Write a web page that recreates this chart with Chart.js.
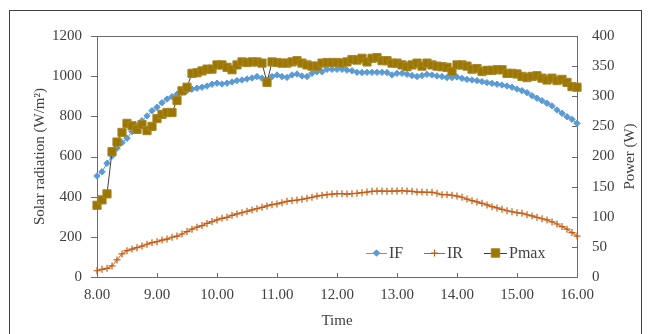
<!DOCTYPE html>
<html>
<head>
<meta charset="utf-8">
<script src="https://cdn.jsdelivr.net/npm/chart.js@4.4.1/dist/chart.umd.min.js"></script>
<style>
  body { margin: 0; background: #fff; }
  #wrap { position: relative; width: 649px; height: 334px; overflow: hidden; }
  #frame { position: absolute; left: 9px; top: 10px; width: 633px; height: 340px; border: 1px solid #404040; box-sizing: border-box; pointer-events: none; }
</style>
</head>
<body>
<div id="wrap">
  <canvas id="chart" width="649" height="334"></canvas>
  <div id="frame"></div>
</div>
<script>
// time axis: 8.00 to 16.00, one reading every 5 minutes
const times = [];
for (let m = 0; m <= 480; m += 5) times.push(8 + m / 60);

// IF: front irradiance (W/m2)
const IF = [
    503, 524, 566, 602, 641, 669, 691, 724, 752, 778, 802, 828, 845, 868, 886, 898, 910, 919, 928, 935, 940, 945, 951, 960, 965,
    961, 965, 971, 978, 981, 986, 991, 998, 990, 981, 998, 1006, 998, 994, 1006, 1011, 1001, 998, 1014, 1022, 1022, 1034, 1034, 1034,
    1034, 1030, 1027, 1019, 1018, 1019, 1019, 1019, 1019, 1018, 1006, 1014, 1014, 1009, 1003, 998, 1003, 1009, 1006, 1001, 998, 993, 993, 996,
    989, 984, 981, 978, 973, 968, 964, 960, 956, 951, 945, 936, 928, 918, 903, 890, 878, 865, 852, 832, 815, 798, 785, 765
];

// IR: rear irradiance (W/m2)
const IR = [
    31, 38, 43, 55, 85, 115, 131, 139, 146, 154, 163, 171, 176, 184, 189, 198, 204, 214, 226, 238, 248, 256, 267, 276, 284,
    292, 297, 307, 314, 320, 327, 334, 340, 347, 354, 360, 364, 370, 377, 380, 383, 387, 392, 397, 403, 407, 410, 413, 415,
    415, 413, 415, 417, 420, 423, 427, 428, 428, 427, 428, 428, 430, 428, 427, 423, 423, 422, 422, 417, 410, 410, 407, 403,
    397, 388, 380, 374, 367, 359, 350, 344, 337, 330, 325, 320, 317, 310, 304, 297, 290, 284, 274, 264, 251, 238, 221, 204
];

// Pmax (W)
const Pmax = [
    119, 128, 138, 208, 224, 240, 255, 251, 245, 253, 243, 250, 263, 270, 273, 273, 293, 309, 315, 338, 339, 342, 345, 345, 352,
    352, 348, 344, 352, 357, 356, 357, 357, 355, 323, 357, 356, 355, 355, 357, 359, 355, 352, 350, 350, 355, 356, 356, 356,
    355, 357, 361, 360, 363, 357, 363, 364, 359, 359, 355, 355, 352, 349, 352, 355, 350, 355, 352, 350, 349, 348, 341, 352,
    352, 350, 345, 346, 341, 343, 343, 344, 344, 338, 338, 337, 333, 331, 333, 334, 330, 327, 330, 326, 328, 323, 316, 315
];

const leftTicks = { min: 0, max: 1200, step: 200 };
const rightTicks = { min: 0, max: 400, step: 50 };

const textColor = '#404040';
const axisColor = '#6b6b6b';
const serif = '"Liberation Serif", "Times New Roman", serif';
const font = { family: serif, size: 15 };

const pairs = values => values.map((v, i) => ({ x: times[i], y: v }));

const legendItems = [
    { label: 'IF', x1: 366, x2: 387, line: '#5b9bd5', fill: '#5b9bd5', stroke: '#5b9bd5', style: 'rectRot', radius: 3.2 },
    { label: 'IR', x1: 424, x2: 445, line: '#c55a11', fill: '#c55a11', stroke: '#c55a11', style: 'cross', radius: 3.5 },
    { label: 'Pmax', x1: 484, x2: 507, line: '#404040', fill: '#9c7700', stroke: '#a8862a', style: 'rect', radius: 6 }
];

const decor = {
    id: 'decor',
    beforeDatasetsDraw(chart) {
        const {ctx, chartArea: a, scales} = chart;
        ctx.save();
        ctx.strokeStyle = axisColor;
        ctx.lineWidth = 1;
        ctx.strokeRect(Math.round(a.left) + 0.5, Math.round(a.top) + 0.5, Math.round(a.width), Math.round(a.height));
        ctx.beginPath();
        scales.y.ticks.forEach(t => {
            const py = Math.round(scales.y.getPixelForValue(t.value)) + 0.5;
            ctx.moveTo(a.left - 6, py);
            ctx.lineTo(a.left, py);
        });
        scales.y2.ticks.forEach(t => {
            const py = Math.round(scales.y2.getPixelForValue(t.value)) + 0.5;
            ctx.moveTo(a.right - 5, py);
            ctx.lineTo(a.right + 1, py);
        });
        scales.x.ticks.forEach(t => {
            const px = Math.round(scales.x.getPixelForValue(t.value)) + 0.5;
            ctx.moveTo(px, a.bottom);
            ctx.lineTo(px, a.bottom - 4);
        });
        ctx.stroke();
        ctx.restore();
    },
    afterDraw(chart) {
        const {ctx, chartArea: a} = chart;
        ctx.save();
        ctx.font = '15px ' + serif;
        ctx.fillStyle = textColor;

        // right axis title, reading bottom to top
        ctx.save();
        ctx.translate(630, (a.top + a.bottom) / 2);
        ctx.rotate(-Math.PI / 2);
        ctx.textAlign = 'center';
        ctx.textBaseline = 'middle';
        ctx.fillText('Power (W)', 0, 0);
        ctx.restore();

        // legend inside the plot area
        const ly = 253;
        ctx.font = '16px ' + serif;
        legendItems.forEach(item => {
            ctx.strokeStyle = item.line;
            ctx.lineWidth = 1;
            ctx.beginPath();
            ctx.moveTo(item.x1, ly + 0.5);
            ctx.lineTo(item.x2, ly + 0.5);
            ctx.stroke();
            ctx.fillStyle = item.fill;
            ctx.strokeStyle = item.stroke;
            Chart.helpers.drawPoint(ctx, { pointStyle: item.style, radius: item.radius, borderWidth: 1, rotation: 0 },
                (item.x1 + item.x2) / 2, ly);
            ctx.fillStyle = textColor;
            ctx.textAlign = 'left';
            ctx.textBaseline = 'middle';
            ctx.fillText(item.label, item.x2 + 2, ly + 1);
        });
        ctx.restore();
    }
};

new Chart(document.getElementById('chart'), {
    type: 'line',
    data: {
        datasets: [
            {
                label: 'IF',
                data: pairs(IF),
                yAxisID: 'y',
                borderColor: '#5b9bd5',
                backgroundColor: '#5b9bd5',
                borderWidth: 1,
                pointStyle: 'rectRot',
                pointRadius: 3.2,
                pointBorderWidth: 1,
                order: 3
            },
            {
                label: 'IR',
                data: pairs(IR),
                yAxisID: 'y',
                borderColor: '#c55a11',
                backgroundColor: '#c55a11',
                borderWidth: 1,
                pointStyle: 'cross',
                pointRadius: 3.5,
                pointBorderWidth: 1.2,
                order: 2
            },
            {
                label: 'Pmax',
                data: pairs(Pmax),
                yAxisID: 'y2',
                borderColor: '#404040',
                borderWidth: 1,
                pointStyle: 'rect',
                pointRadius: 5.8,
                pointBackgroundColor: '#9c7700',
                pointBorderColor: '#a8862a',
                pointBorderWidth: 1,
                order: 1
            }
        ]
    },
    options: {
        responsive: false,
        animation: false,
        events: [],
        layout: {padding: {top: 36, left: 0, right: 0, bottom: 0}},
        datasets: {line: {clip: false, tension: 0}},
        plugins: {legend: {display: false}, tooltip: {enabled: false}},
        scales: {
            x: {
                type: 'linear',
                min: 8,
                max: 16,
                afterFit: s => { s.height = 57; },
                grid: {display: false, drawTicks: false},
                border: {display: false},
                ticks: {stepSize: 1, padding: 9, color: textColor, font, maxRotation: 0, autoSkip: false,
                    callback: v => v.toFixed(2)},
                title: {display: true, text: 'Time', color: textColor, font, padding: {top: 0, bottom: 4}}
            },
            y: {
                position: 'left',
                min: leftTicks.min,
                max: leftTicks.max,
                afterFit: s => { s.width = 97; },
                grid: {display: false, drawTicks: false},
                border: {display: false},
                ticks: {stepSize: leftTicks.step, padding: 15, color: textColor, font, callback: v => String(v)},
                title: {display: true, text: 'Solar radiation (W/m²)', color: textColor, font, padding: {top: 31, bottom: 0}}
            },
            y2: {
                position: 'right',
                min: rightTicks.min,
                max: rightTicks.max,
                afterFit: s => { s.width = 72; },
                grid: {display: false, drawTicks: false},
                border: {display: false},
                ticks: {stepSize: rightTicks.step, padding: 15, color: textColor, font, callback: v => String(v)}
            }
        }
    },
    plugins: [decor]
});
</script>
</body>
</html>
